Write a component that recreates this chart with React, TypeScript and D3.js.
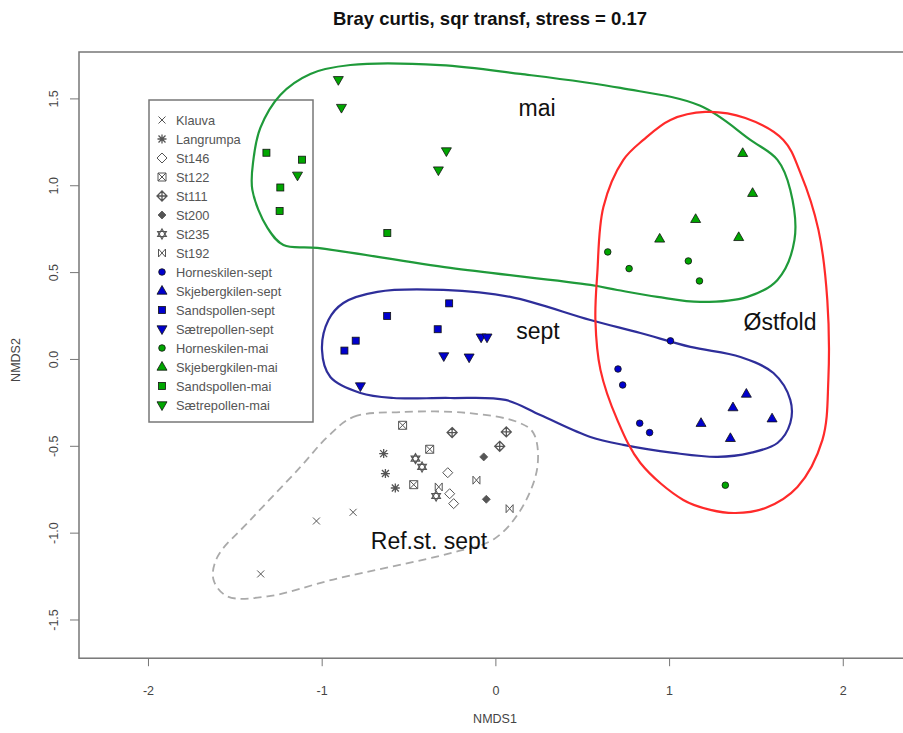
import React from "react";
import * as d3 from "d3";

// NMDS scores (NMDS1, NMDS2)
const klauva = [[-0.822, -0.88], [-1.033, -0.93], [-1.354, -1.235]];
const langrumpa = [[-0.646, -0.542], [-0.636, -0.657], [-0.579, -0.74]];
const st146 = [[-0.277, -0.652], [-0.266, -0.773], [-0.243, -0.83]];
const st122 = [[-0.537, -0.379], [-0.381, -0.517], [-0.473, -0.721]];
const st111 = [[-0.252, -0.421], [0.022, -0.5], [0.06, -0.417]];
const st200 = [[-0.07, -0.561], [-0.055, -0.805]];
const st235 = [[-0.463, -0.571], [-0.425, -0.619], [-0.344, -0.786]];
const st192 = [[-0.329, -0.734], [-0.112, -0.695], [0.079, -0.859]];
const hornesSept = [[1.005, 0.107], [0.703, -0.055], [0.73, -0.147], [0.828, -0.367], [0.885, -0.421]];
const skjebergSept = [[1.442, -0.199], [1.365, -0.277], [1.59, -0.341], [1.181, -0.367], [1.35, -0.454]];
const sandsSept = [[-0.269, 0.323], [-0.626, 0.25], [-0.335, 0.174], [-0.807, 0.108], [-0.872, 0.051]];
const saetreSept = [[-0.085, 0.128], [-0.051, 0.128], [-0.3, 0.02], [-0.154, 0.013], [-0.78, -0.153]];
const hornesMai = [[0.644, 0.619], [0.767, 0.523], [1.108, 0.567], [1.172, 0.452], [1.321, -0.724]];
const skjebergMai = [[1.421, 1.187], [1.478, 0.957], [1.15, 0.807], [0.943, 0.694], [1.398, 0.703]];
const sandsMai = [[-1.321, 1.19], [-1.116, 1.15], [-1.241, 0.99], [-1.245, 0.855], [-0.625, 0.728]];
const saetreMai = [[-0.907, 1.61], [-0.889, 1.45], [-0.285, 1.2], [-0.331, 1.09], [-1.142, 1.06]];

const legendNames = [
  "Klauva", "Langrumpa", "St146", "St122", "St111", "St200", "St235", "St192",
  "Horneskilen-sept", "Skjebergkilen-sept", "Sandspollen-sept", "Sætrepollen-sept",
  "Horneskilen-mai", "Skjebergkilen-mai", "Sandspollen-mai", "Sætrepollen-mai",
];
const symbols = [
  "x", "asterisk", "diamondOpen", "squareX", "diamondPlus", "diamondFilled", "star6", "bowtie",
  "circle", "triUp", "square", "triDown", "circle", "triUp", "square", "triDown",
];
const BLUE = "#0000cd";
const GREEN = "#00a600";
const GREY = "#555";
const fills = [GREY, GREY, GREY, GREY, GREY, GREY, GREY, GREY, BLUE, BLUE, BLUE, BLUE, GREEN, GREEN, GREEN, GREEN];
const series = [klauva, langrumpa, st146, st122, st111, st200, st235, st192,
  hornesSept, skjebergSept, sandsSept, saetreSept, hornesMai, skjebergMai, sandsMai, saetreMai];

const xTicks = [-2, -1, 0, 1, 2];
const yTicks = [-1.5, -1, -0.5, 0, 0.5, 1, 1.5];

// hand drawn group outlines (data units)
const maiHull = [[-1.402, 0.976], [-1.396, 1.149], [-1.356, 1.333], [-1.241, 1.523], [-1.068, 1.644], [-0.838, 1.695],
  [-0.32, 1.695], [0.141, 1.644], [0.717, 1.563], [1.177, 1.46], [1.465, 1.264], [1.621, 1.149], [1.695, 0.976],
  [1.719, 0.688], [1.621, 0.458], [1.448, 0.36], [1.177, 0.331], [0.93, 0.36], [0.699, 0.4], [0.544, 0.429],
  [-0.262, 0.527], [-1.028, 0.642], [-1.223, 0.659], [-1.315, 0.757]];
const septHull = [[-1.001, 0.055], [-0.964, 0.227], [-0.878, 0.325], [-0.682, 0.389], [-0.302, 0.4], [0.083, 0.36],
  [0.544, 0.227], [0.832, 0.152], [1.12, 0.072], [1.408, 0.014], [1.598, -0.078], [1.695, -0.233], [1.695, -0.366],
  [1.621, -0.481], [1.465, -0.538], [1.275, -0.561], [1.022, -0.538], [0.734, -0.492], [0.544, -0.446],
  [0.256, -0.32], [0.055, -0.233], [-0.262, -0.222], [-0.59, -0.222], [-0.78, -0.193], [-0.953, -0.101]];
const ostfoldHull = [[0.734, 1.149], [0.849, 1.264], [1.005, 1.379], [1.206, 1.425], [1.436, 1.39], [1.655, 1.264],
  [1.753, 1.074], [1.857, 0.746], [1.908, 0.343], [1.914, -0.118], [1.88, -0.463], [1.736, -0.734], [1.552, -0.855],
  [1.379, -0.884], [1.235, -0.866], [1.079, -0.809], [0.832, -0.596], [0.699, -0.348], [0.602, -0.06],
  [0.573, 0.227], [0.584, 0.498], [0.619, 0.878]];
const refHull = [[-0.97, -0.446], [-0.82, -0.331], [-0.55, -0.303], [-0.164, -0.308], [0.124, -0.36], [0.216, -0.423],
  [0.239, -0.619], [0.141, -0.869], [-0.014, -1.036], [-0.245, -1.111], [-0.936, -1.267], [-1.315, -1.364],
  [-1.546, -1.364], [-1.626, -1.267], [-1.603, -1.137], [-1.413, -0.924], [-1.125, -0.619]];

const FONT = "'Liberation Sans', Arial, sans-serif";

function Symbol({ type, color, cx, cy }: { type: string; color: string; cx: number; cy: number }) {
  const s = { stroke: GREY, strokeWidth: 1, fill: "none" };
  const t = `translate(${cx},${cy})`;
  switch (type) {
    case "x":
      return <path transform={t} d="M-3.5,-3.5L3.5,3.5M3.5,-3.5L-3.5,3.5" {...s} />;
    case "asterisk":
      return <path transform={t} d="M-3.5,-3.5L3.5,3.5M3.5,-3.5L-3.5,3.5M-4.5,0H4.5M0,-4.5V4.5" {...s} strokeWidth={1.3} />;
    case "diamondOpen":
      return <path transform={t} d="M0,-5L5,0L0,5L-5,0Z" {...s} />;
    case "squareX":
      return <path transform={t} d="M-4,-4H4V4H-4ZM-4,-4L4,4M4,-4L-4,4" {...s} />;
    case "diamondPlus":
      return <path transform={t} d="M0,-5L5,0L0,5L-5,0ZM-5,0H5M0,-5V5" {...s} strokeWidth={1.3} />;
    case "diamondFilled":
      return <path transform={t} d="M0,-4L4,0L0,4L-4,0Z" fill={GREY} stroke={GREY} strokeWidth={0.8} />;
    case "star6":
      return <path transform={t} d="M0,-5L4.3,2.5H-4.3ZM0,5L4.3,-2.5H-4.3Z" {...s} strokeWidth={1.2} />;
    case "bowtie":
      return <path transform={t} d="M-3.5,-4V4M3.5,-4V4M-3.5,-4L3.5,4M3.5,-4L-3.5,4" {...s} />;
    case "circle":
      return <circle cx={cx} cy={cy} r={3.3} fill={color} stroke="#111" strokeWidth={0.8} />;
    case "square":
      return <rect x={cx - 3.5} y={cy - 3.5} width={7} height={7} fill={color} stroke="#111" strokeWidth={0.8} />;
    case "triUp":
      return <path transform={t} d="M0,-5.5L5,3.2H-5Z" fill={color} stroke="#111" strokeWidth={0.8} />;
    case "triDown":
      return <path transform={t} d="M0,5.5L5,-3.2H-5Z" fill={color} stroke="#111" strokeWidth={0.8} />;
    default:
      return null;
  }
}

export default function App() {
  const width = 903;
  const height = 733;
  const ppu = 173.7;
  const left = 79;
  const top = 52;
  const x = d3.scaleLinear().domain([-2.4, 2.4]).range([left, left + 4.8 * ppu]);
  const y = d3.scaleLinear().domain([-1.72, 1.77]).range([top + 3.49 * ppu, top]);
  const bottom = y(-1.72);

  const hull = d3
    .line<number[]>()
    .x((d) => x(d[0]))
    .y((d) => y(d[1]))
    .curve(d3.curveCatmullRomClosed.alpha(0.5));

  const legX = 149, legY = 100, legW = 164, legH = 322;

  return (
    <svg width={width} height={height} style={{ position: "absolute", left: 0, top: 0, background: "#fff" }} fontFamily={FONT}>
      <rect width={width} height={height} fill="#fff" />
      <text x={490} y={25} textAnchor="middle" fontSize={18.5} fontWeight="bold" fill="#111">
        Bray curtis, sqr transf, stress = 0.17
      </text>

      {/* plot frame */}
      <rect x={left} y={top} width={4.8 * ppu} height={bottom - top} fill="none" stroke="#777" strokeWidth={1.5} />

      {/* axes */}
      {xTicks.map((t) => (
        <g key={"x" + t}>
          <line x1={x(t)} x2={x(t)} y1={bottom} y2={bottom + 8} stroke="#777" />
          <text x={x(t)} y={695} textAnchor="middle" fontSize={12.5} fill="#444">{t}</text>
        </g>
      ))}
      {yTicks.map((t) => (
        <g key={"y" + t}>
          <line x1={left - 9} x2={left} y1={y(t)} y2={y(t)} stroke="#777" />
          <text x={58} y={y(t)} transform={`rotate(-90,58,${y(t)})`} textAnchor="middle" fontSize={12.5} fill="#444">
            {t.toFixed(1)}
          </text>
        </g>
      ))}
      <text x={495} y={723} textAnchor="middle" fontSize={12.5} fill="#444">NMDS1</text>
      <text x={20} y={360} transform="rotate(-90,20,360)" textAnchor="middle" fontSize={12.5} fill="#444">NMDS2</text>

      {/* legend */}
      <rect x={legX} y={legY} width={legW} height={legH} fill="none" stroke="#777" strokeWidth={1.5} />
      {legendNames.map((n, i) => (
        <g key={n}>
          <Symbol type={symbols[i]} color={fills[i]} cx={162} cy={120 + i * 19} />
          <text x={176} y={120 + i * 19} dy="0.36em" fontSize={12.8} fill="#555">{n}</text>
        </g>
      ))}

      {/* group outlines */}
      <path d={hull(maiHull) || ""} fill="none" stroke="#1f9a3a" strokeWidth={2.2} />
      <path d={hull(septHull) || ""} fill="none" stroke="#2e2e9a" strokeWidth={2.2} />
      <path d={hull(ostfoldHull) || ""} fill="none" stroke="#ff2a2a" strokeWidth={2.2} />
      <path d={hull(refHull) || ""} fill="none" stroke="#aaa" strokeWidth={1.8} strokeDasharray="8,5" />

      {/* points */}
      {series.map((pts, i) =>
        pts.map((p, j) => (
          <Symbol key={i + "-" + j} type={symbols[i]} color={fills[i]} cx={x(p[0])} cy={y(p[1])} />
        ))
      )}

      {/* group labels */}
      <text x={537} y={116} textAnchor="middle" fontSize={23} fill="#111">mai</text>
      <text x={538} y={339} textAnchor="middle" fontSize={23} fill="#111">sept</text>
      <text x={780} y={330} textAnchor="middle" fontSize={23} fill="#111">Østfold</text>
      <text x={429} y={549} textAnchor="middle" fontSize={23} fill="#111">Ref.st. sept</text>
    </svg>
  );
}
